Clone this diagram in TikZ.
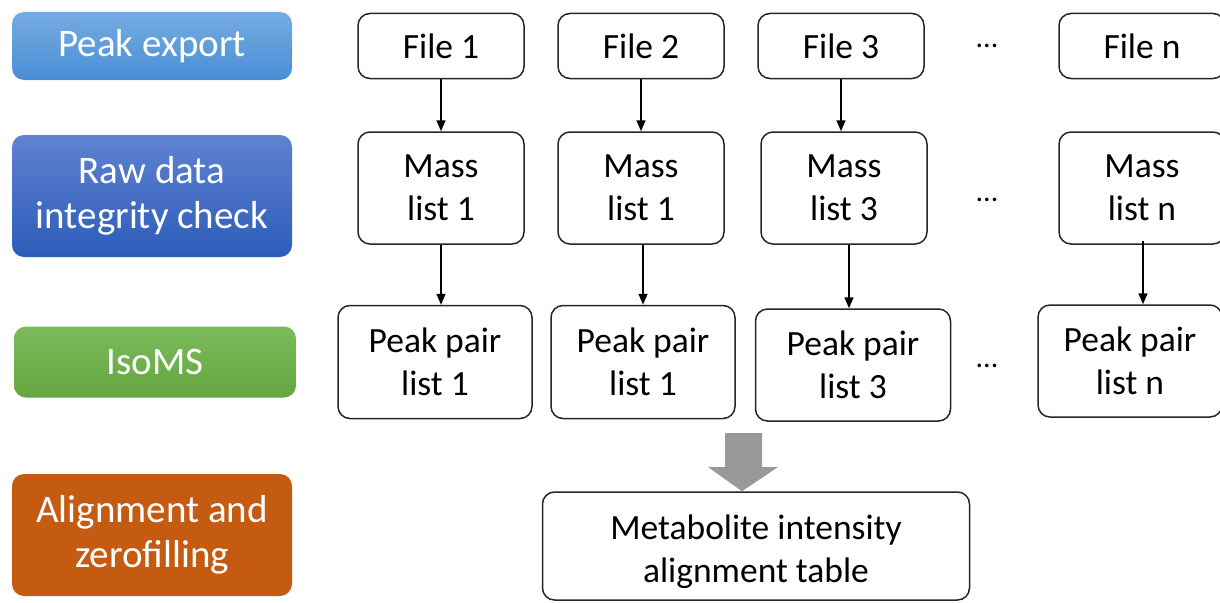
\documentclass[tikz,border=0pt]{standalone}
\usepackage{fontspec}
\setmainfont{Carlito}
\usetikzlibrary{arrows.meta}
\begin{document}
\begin{tikzpicture}[x=1pt,y=-1pt,
  txt/.style={font=\fontsize{35.5}{43}\selectfont, align=center},
  stage/.style={font=\fontsize{39}{45}\selectfont, align=center, text=white,
    rounded corners=12pt, inner sep=0pt, minimum width=280pt},
  item/.style={txt, draw=black!85, line width=1.5pt, rounded corners=12pt,
    fill=white, inner sep=0pt},
  flow/.style={line width=1.6pt, -{Triangle[length=11pt,width=9pt]}},
  dots/.style={font=\fontsize{30}{34}\selectfont}]
\clip (0,0) rectangle (1220,602);
\useasboundingbox (0,0) rectangle (1220,602);

% processing stages
\node[stage, minimum height=68pt, top color={rgb,255:red,118;green,172;blue,226}, bottom color={rgb,255:red,72;green,142;blue,212}] (s1) at (152,46) {Peak export};
\node[stage, minimum height=122pt, top color={rgb,255:red,96;green,130;blue,208}, bottom color={rgb,255:red,44;green,92;blue,186}] (s2) at (152,196) {Raw data\\integrity check};
\node[stage, minimum width=282pt, minimum height=71pt, top color={rgb,255:red,124;green,186;blue,90}, bottom color={rgb,255:red,100;green,166;blue,64}] (s3) at (155,362) {IsoMS};
\node[stage, minimum height=122pt, fill={rgb,255:red,197;green,90;blue,17}] (s4) at (152,535) {Alignment and\\zerofilling};

% input files
\node[item, minimum width=166pt, minimum height=65pt] (f1) at (441,46) {File 1};
\node[item, minimum width=166pt, minimum height=65pt] (f2) at (641,46) {File 2};
\node[item, minimum width=166pt, minimum height=65pt] (f3) at (841,46) {File 3};
\node[item, minimum width=166pt, minimum height=65pt] (fn) at (1142,46) {File n};

% mass lists
\node[item, minimum width=166pt, minimum height=112pt] (m1) at (441,188) {Mass\\list 1};
\node[item, minimum width=166pt, minimum height=112pt] (m2) at (641,188) {Mass\\list 1};
\node[item, minimum width=166pt, minimum height=112pt] (m3) at (844,188) {Mass\\list 3};
\node[item, minimum width=166pt, minimum height=112pt] (mn) at (1142,188) {Mass\\list n};

% peak pair lists
\node[item, minimum width=194pt, minimum height=113pt] (p1) at (435,362) {Peak pair\\list 1};
\node[item, minimum width=184pt, minimum height=113pt] (p2) at (643,362) {Peak pair\\list 1};
\node[item, minimum width=195pt, minimum height=112pt] (p3) at (853,365) {Peak pair\\list 3};
\node[item, minimum width=184pt, minimum height=112pt] (pn) at (1130,361) {Peak pair\\list n};

% ellipses between columns
\node[dots] (d1) at (987,46) {...};
\node[dots] (d2) at (987,200) {...};
\node[dots] (d3) at (987,366) {...};

% alignment result (strut lowers the two lines a little)
\node[item, minimum width=427pt, minimum height=108pt] (tab) at (756,546) {\rule{0pt}{37pt}Metabolite intensity\\alignment table};

% arrows
\draw[flow] (f1.south) -- (f1.south |- m1.north);
\draw[flow] (f2.south) -- (f2.south |- m2.north);
\draw[flow] (f3.south) -- (f3.south |- m3.north);
\draw[flow] (m1.south) -- (m1.south |- p1.north);
\draw[flow] ([xshift=2pt]m2.south) -- ([xshift=2pt]m2.south |- p2.north);
\draw[flow] ([xshift=5pt]m3.south) -- ([xshift=5pt]m3.south |- p3.north);
\draw[flow] ([xshift=1pt,yshift=4pt]mn.south) -- ([xshift=1pt]mn.south |- pn.north);

% block arrow into the table
\coordinate (tip) at (tab.north -| 742,0);
\fill[black!40] (725,433) -- (762,433) -- (762,467) -- (778,467) -- (tip) -- (708,467) -- (725,467) -- cycle;
\end{tikzpicture}
\end{document}
